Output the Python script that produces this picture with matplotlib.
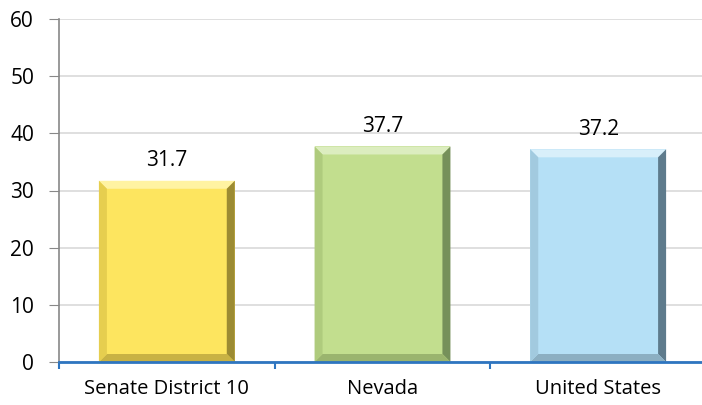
import matplotlib
matplotlib.use("Agg")
import matplotlib.pyplot as plt
from matplotlib.patches import Polygon
import numpy as np

categories = ["Senate District 10", "Nevada", "United States"]
values = [31.7, 37.7, 37.2]
labels = ["31.7", "37.7", "37.2"]
face_colors = ["#FDE55F", "#C2DE8E", "#B5E0F6"]
light_colors = ["#FFF3A2", "#DCEDBF", "#D8EFFA"]
dark_colors = ["#9C8B33", "#76905A", "#5E7B8C"]
side_colors = ["#E6CE4F", "#AFCB7D", "#A2CADF"]
bottom_colors = ["#C8B244", "#9AB46E", "#8CAFC2"]
yticks = [0, 10, 20, 30, 40, 50, 60]

fig = plt.figure(figsize=(7.02, 4.05), dpi=100)
ax = fig.add_axes([59 / 702, (405 - 362) / 405, 647 / 702, 343 / 405])

x = np.arange(len(categories))
bars = ax.bar(x, values, width=0.63, color=face_colors, zorder=2, linewidth=0)

ax.set_xlim(-0.5, 2.5)
ax.set_ylim(0, 60)
ax.set_yticks(yticks)
ax.yaxis.grid(True, color="#d9d9d9", linewidth=1.2, zorder=0)
ax.set_axisbelow(True)

# bevel edges, built from each bar's extent in pixels
fig.canvas.draw()
inv = ax.transData.inverted()
bev = 8
for b, lc, dc, sc, bc in zip(bars, light_colors, dark_colors, side_colors, bottom_colors):
    (x0, y0), (x1, y1) = ax.transData.transform([(b.get_x(), 0), (b.get_x() + b.get_width(), b.get_height())])
    pieces = [
        ([(x0, y1), (x1, y1), (x1 - bev, y1 - bev), (x0 + bev, y1 - bev)], lc),
        ([(x1, y1), (x1, y0), (x1 - bev, y0 + bev), (x1 - bev, y1 - bev)], dc),
        ([(x0, y0), (x1, y0), (x1 - bev, y0 + bev), (x0 + bev, y0 + bev)], bc),
        ([(x0, y1), (x0, y0), (x0 + bev, y0 + bev), (x0 + bev, y1 - bev)], sc),
    ]
    for pts, c in pieces:
        ax.add_patch(Polygon(inv.transform(pts), closed=True, facecolor=c,
                             edgecolor="none", zorder=3))

for xi, v, t in zip(x, values, labels):
    ax.annotate(t, (xi, v), xytext=(0, 7), textcoords="offset points",
                ha="center", va="bottom", fontsize=15, family="Open Sans")

ax.set_xticks(x)
ax.set_xticklabels(categories, fontsize=14.5, family="Open Sans")
ax.set_xticks([-0.5, 0.5, 1.5, 2.5], minor=True)
ax.tick_params(axis="x", which="major", length=0, pad=12)
ax.tick_params(axis="x", which="minor", length=5, color="#2E75C0", width=1.5)
ax.tick_params(axis="y", length=7, color="#888888", labelsize=15, pad=11)
for lab in ax.get_yticklabels():
    lab.set_family("Open Sans")

for s in ["top", "right"]:
    ax.spines[s].set_visible(False)
ax.spines["left"].set_color("#888888")
ax.spines["left"].set_linewidth(1.2)
ax.spines["bottom"].set_color("#2E75C0")
ax.spines["bottom"].set_linewidth(2)
ax.spines["bottom"].set_zorder(4)

fig.savefig("out.png", dpi=100)
